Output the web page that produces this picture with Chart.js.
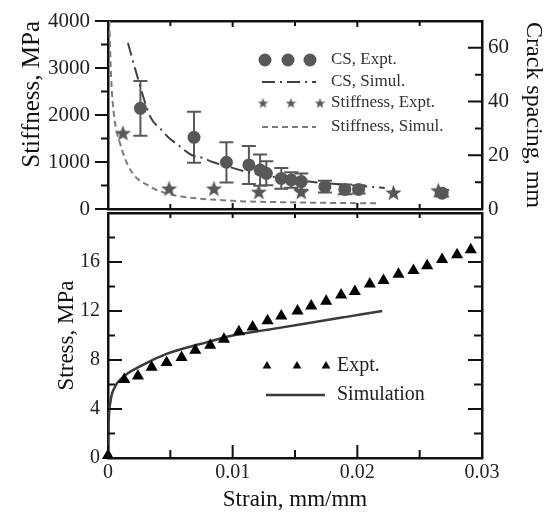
<!DOCTYPE html>
<html>
<head>
<meta charset="utf-8">
<title>Stiffness, crack spacing and stress vs strain</title>
<script src="https://cdn.jsdelivr.net/npm/chart.js@4.4.0/dist/chart.umd.min.js"></script>
<style>
  body { margin: 0; background: #fff; }
  .panel { position: absolute; left: 0; width: 545px; }
  #topPanel { top: 0; height: 222px; }
  #bottomPanel { top: 206px; height: 306px; }
</style>
</head>
<body>
<div class="panel" id="topPanel"><canvas id="crackChart"></canvas></div>
<div class="panel" id="bottomPanel"><canvas id="stressChart"></canvas></div>

<script>
  // ---- top panel: crack spacing (mm, right axis) and stiffness (MPa, left axis)
  const csStrain = [0.0026, 0.0069, 0.0095, 0.0113, 0.0122, 0.0127, 0.0139, 0.0147, 0.0155, 0.0174, 0.0190, 0.0201, 0.0268];
  const csExpt   = [37.5, 26.7, 17.4, 16.4, 14.5, 13.3, 11.4, 10.8, 10.2, 8.3, 7.3, 7.3, 5.9];
  const csErr    = [10.2, 9.5, 7.5, 7.1, 5.8, 4.5, 3.9, 2.9, 3.0, 2.2, 1.8, 1.5, 1.2];

  const csSimStrain = [0.0016, 0.0022, 0.0034, 0.0043, 0.0049, 0.0056, 0.0067, 0.0076, 0.0084, 0.0100, 0.0110, 0.0130, 0.0150, 0.0170, 0.0190, 0.0210, 0.0222];
  const csSim       = [61.8, 51.8, 34.3, 29.4, 26.4, 23.9, 20.1, 19.0, 17.5, 15.3, 14.0, 12.2, 10.8, 9.8, 9.0, 8.3, 7.8];

  const stiffStrain = [0.0012, 0.0049, 0.0085, 0.0121, 0.0155, 0.0229, 0.0265];
  const stiffExpt   = [1620, 440, 440, 370, 370, 355, 400];

  const stiffSimStrain = [0.0001, 0.00025, 0.0005, 0.00096, 0.0018, 0.0034, 0.0047, 0.006, 0.010, 0.015, 0.0215];
  const stiffSim       = [4000, 2800, 1960, 1400, 830, 474, 330, 262, 175, 140, 120];

  // ---- bottom panel: stress-strain
  const stressStrain = [0, 0.0013, 0.0024, 0.0035, 0.0047, 0.0059, 0.0070, 0.0082, 0.0093, 0.0105, 0.0116, 0.0128, 0.0139,
                        0.0152, 0.0163, 0.0175, 0.0187, 0.0198, 0.0210, 0.0221, 0.0233, 0.0245, 0.0256, 0.0268, 0.0280, 0.0291];
  const stressExpt   = [0.2, 6.4, 6.7, 7.4, 7.8, 8.2, 8.8, 9.2, 9.7, 10.3, 10.7, 11.2, 11.6,
                        12.0, 12.4, 12.8, 13.3, 13.6, 14.2, 14.5, 15.0, 15.3, 15.7, 16.2, 16.6, 17.0];

  const simStrain = [0, 0.00005, 0.0002, 0.0005, 0.0012, 0.0026, 0.0047, 0.0074, 0.0100, 0.0130, 0.0160, 0.0190, 0.0220];
  const simStress = [0, 2.8, 4.6, 5.7, 6.6, 7.5, 8.5, 9.3, 10.0, 10.5, 11.0, 11.5, 12.0];

  const strainTicks = [0, 0.01, 0.02, 0.03];

  const pts = (xs, ys) => xs.map((x, i) => ({ x: x, y: ys[i] }));

  const SERIF = "'Liberation Serif', 'Times New Roman', serif";
  const AXIS = '#111';
  const GREY = '#585858';

  // filled five-point star used as a point style
  function makeStar(size, color) {
    const c = document.createElement('canvas');
    c.width = c.height = size;
    const g = c.getContext('2d');
    const R = size / 2, r = R * 0.42;
    g.beginPath();
    for (let i = 0; i < 10; i++) {
      const a = -Math.PI / 2 + i * Math.PI / 5;
      const rad = i % 2 ? r : R;
      g.lineTo(R + rad * Math.cos(a), R + 0.1 * R + rad * Math.sin(a));
    }
    g.closePath();
    g.fillStyle = color;
    g.fill();
    return c;
  }
  const bigStar = makeStar(17, GREY);
  const smallStar = makeStar(11, GREY);

  // tick marks with minor ticks, inward or outward
  const tickMarks = {
    id: 'tickMarks',
    afterDraw(chart, args, opts) {
      const ctx = chart.ctx, a = chart.chartArea;
      ctx.save();
      ctx.strokeStyle = AXIS;
      ctx.lineWidth = 2;
      ctx.beginPath();
      for (const m of opts.marks) {
        const s = chart.scales[m.id];
        const n = Math.round((s.max - s.min) / m.step);
        for (let i = 0; i <= n; i++) {
          const p = s.getPixelForValue(s.min + i * m.step);
          const len = (i % m.every === 0 ? m.len[0] : m.len[1]) * (m.out ? -1 : 1);
          if (m.side === 'left') { ctx.moveTo(a.left, p); ctx.lineTo(a.left + len, p); }
          if (m.side === 'right') { ctx.moveTo(a.right, p); ctx.lineTo(a.right - len, p); }
          if (m.side === 'bottom') { ctx.moveTo(p, a.bottom); ctx.lineTo(p, a.bottom - len); }
          if (m.side === 'top') { ctx.moveTo(p, a.top); ctx.lineTo(p, a.top + len); }
        }
      }
      ctx.stroke();
      ctx.restore();
    }
  };

  // vertical error bars with caps for one dataset
  const errorBars = {
    id: 'errorBars',
    beforeDatasetsDraw(chart, args, opts) {
      if (!opts.values) return;
      const meta = chart.getDatasetMeta(opts.datasetIndex);
      const ys = chart.scales[meta.yAxisID];
      const data = chart.data.datasets[opts.datasetIndex].data;
      const ctx = chart.ctx;
      ctx.save();
      ctx.strokeStyle = opts.color;
      ctx.lineWidth = 2;
      ctx.beginPath();
      meta.data.forEach((el, i) => {
        const hi = ys.getPixelForValue(data[i].y + opts.values[i]);
        const lo = ys.getPixelForValue(data[i].y - opts.values[i]);
        ctx.moveTo(el.x, hi); ctx.lineTo(el.x, lo);
        ctx.moveTo(el.x - opts.cap, hi); ctx.lineTo(el.x + opts.cap, hi);
        ctx.moveTo(el.x - opts.cap, lo); ctx.lineTo(el.x + opts.cap, lo);
      });
      ctx.stroke();
      ctx.restore();
    }
  };

  // in-plot legend: a row of markers or a line sample, then the label
  const panelLegend = {
    id: 'panelLegend',
    afterDatasetsDraw(chart, args, opts) {
      const ctx = chart.ctx;
      ctx.save();
      for (const it of opts.items) {
        if (it.marker) {
          ctx.fillStyle = it.marker.color;
          for (const x of it.marks) Chart.helpers.drawPoint(ctx, it.marker, x, it.y);
        } else {
          ctx.save();
          ctx.strokeStyle = it.line.color;
          ctx.lineWidth = it.line.width;
          ctx.setLineDash(it.line.dash || []);
          ctx.beginPath();
          ctx.moveTo(it.from, it.y);
          ctx.lineTo(it.to, it.y);
          ctx.stroke();
          ctx.restore();
        }
        ctx.font = opts.font;
        ctx.fillStyle = opts.color;
        ctx.textBaseline = 'middle';
        ctx.fillText(it.text, it.tx, it.y);
      }
      ctx.restore();
    }
  };

  // pin axis sizes so the two plot areas line up exactly
  const noPad = s => { s.paddingTop = s.paddingBottom = s.paddingLeft = s.paddingRight = 0; };
  const fixWidth = w => s => { s.width = w; noPad(s); };
  const fixHeight = h => s => { s.height = h; noPad(s); };
  const tickFont = { family: SERIF, size: 20 };
  const topTickFont = { family: SERIF, size: 21 };
  const titleFont = { family: SERIF, size: 23, lineHeight: 1 };
  const border = { color: AXIS, width: 2.5 };

  function strainAxis(position, height, labels) {
    return {
      type: 'linear', position: position, min: 0, max: 0.03,
      grid: { display: false, drawTicks: false },
      border: border,
      afterFit: fixHeight(height),
      ticks: {
        display: labels, stepSize: 0.01, padding: 3, color: '#222', font: tickFont,
        callback: v => strainTicks.some(t => Math.abs(t - v) < 1e-9) ? String(Number(v.toFixed(3))) : ''
      }
    };
  }

  // ---- top chart
  new Chart(document.getElementById('crackChart'), {
    type: 'line',
    data: {
      datasets: [
        {
          label: 'CS, Expt.', data: pts(csStrain, csExpt), yAxisID: 'y2', showLine: false,
          pointStyle: 'circle', pointRadius: 6.5, pointBackgroundColor: GREY, pointBorderWidth: 0, order: 1
        },
        {
          label: 'CS, Simul.', data: pts(csSimStrain, csSim), yAxisID: 'y2', pointRadius: 0,
          borderColor: '#404040', borderWidth: 2, borderDash: [13, 5, 2, 5], cubicInterpolationMode: 'monotone', order: 3
        },
        {
          label: 'Stiffness, Expt.', data: pts(stiffStrain, stiffExpt), yAxisID: 'y', showLine: false,
          pointStyle: bigStar, pointRadius: 8, order: 0
        },
        {
          label: 'Stiffness, Simul.', data: pts(stiffSimStrain, stiffSim), yAxisID: 'y', pointRadius: 0,
          borderColor: '#7c7c7c', borderWidth: 2, borderDash: [6, 4], cubicInterpolationMode: 'monotone', order: 4
        }
      ]
    },
    options: {
      responsive: true,
      maintainAspectRatio: false,
      animation: false,
      layout: { padding: 0 },
      scales: {
        x: strainAxis('bottom', 13, false),
        xTop: strainAxis('top', 21, false),
        y: {
          position: 'left', min: 0, max: 4000,
          grid: { display: false, drawTicks: false }, border: border,
          afterFit: fixWidth(108),
          ticks: { stepSize: 1000, padding: 18, color: '#222', font: topTickFont, callback: v => String(v) },
          title: {
            display: true, text: 'Stiffness, MPa', color: '#111', align: 'end',
            font: { family: SERIF, size: 25, lineHeight: 1 }, padding: { top: 20 }
          }
        },
        y2: {
          position: 'right', min: 0, max: 70,
          grid: { display: false, drawTicks: false }, border: border,
          afterFit: fixWidth(63),
          ticks: { stepSize: 10, padding: 6, color: '#222', font: topTickFont, callback: v => v % 20 === 0 ? String(v) : '' },
          title: {
            display: true, text: 'Crack spacing, mm', color: '#111',
            font: { family: SERIF, size: 24, lineHeight: 1 }, padding: { top: 0 }
          }
        }
      },
      plugins: {
        legend: { display: false },
        tooltip: { enabled: false },
        errorBars: { datasetIndex: 0, values: csErr, color: GREY, cap: 7 },
        tickMarks: {
          marks: [
            { id: 'y', side: 'left', step: 500, every: 2, len: [13, 7], out: true },
            { id: 'y2', side: 'right', step: 10, every: 2, len: [14, 7] },
            { id: 'x', side: 'bottom', step: 0.005, every: 2, len: [6, 5] },
            { id: 'xTop', side: 'top', step: 0.005, every: 2, len: [6, 5] }
          ]
        },
        panelLegend: {
          font: '17px ' + SERIF, color: '#333',
          items: [
            { marker: { pointStyle: 'circle', radius: 6.5, color: GREY }, marks: [265, 288, 310], y: 60, text: 'CS, Expt.', tx: 331 },
            { line: { color: '#404040', width: 2, dash: [13, 5, 2, 5] }, from: 262, to: 316, y: 82, text: 'CS, Simul.', tx: 331 },
            { marker: { pointStyle: smallStar, radius: 6, color: GREY }, marks: [263, 291, 320], y: 103, text: 'Stiffness, Expt.', tx: 331 },
            { line: { color: '#7c7c7c', width: 2, dash: [6, 4] }, from: 262, to: 316, y: 127, text: 'Stiffness, Simul.', tx: 331 }
          ]
        }
      }
    },
    plugins: [errorBars, tickMarks, panelLegend]
  });

  // ---- bottom chart
  new Chart(document.getElementById('stressChart'), {
    type: 'line',
    data: {
      datasets: [
        {
          label: 'Expt.', data: pts(stressStrain, stressExpt), showLine: false, clip: false,
          pointStyle: 'triangle', pointRadius: 7, pointBackgroundColor: '#000', pointBorderWidth: 0, order: 0
        },
        {
          label: 'Simulation', data: pts(simStrain, simStress), pointRadius: 0,
          borderColor: '#3a3a3a', borderWidth: 2.5, cubicInterpolationMode: 'monotone', order: 1
        }
      ]
    },
    options: {
      responsive: true,
      maintainAspectRatio: false,
      animation: false,
      layout: { padding: 0 },
      scales: {
        x: Object.assign(strainAxis('bottom', 54, true), {
          title: { display: true, text: 'Strain, mm/mm', color: '#111', font: titleFont, padding: { bottom: 0.5 } }
        }),
        xTop: strainAxis('top', 3, false),
        y: {
          position: 'left', min: 0, max: 20,
          grid: { display: false, drawTicks: false }, border: border,
          afterFit: fixWidth(108),
          ticks: { stepSize: 4, padding: 8, color: '#222', font: tickFont, callback: v => v < 20 ? String(v) : '' },
          title: { display: true, text: 'Stress, MPa', color: '#111', font: titleFont, padding: { top: 55 } }
        },
        y2: {
          position: 'right', min: 0, max: 20,
          grid: { display: false, drawTicks: false }, border: border,
          afterFit: fixWidth(63),
          ticks: { display: false }
        }
      },
      plugins: {
        legend: { display: false },
        tooltip: { enabled: false },
        tickMarks: {
          marks: [
            { id: 'y', side: 'left', step: 2, every: 2, len: [14, 7] },
            { id: 'y2', side: 'right', step: 2, every: 2, len: [14, 8] },
            { id: 'x', side: 'bottom', step: 0.005, every: 2, len: [13, 8] },
            { id: 'xTop', side: 'top', step: 0.005, every: 2, len: [5, 5] }
          ]
        },
        panelLegend: {
          font: '20px ' + SERIF, color: '#222',
          items: [
            { marker: { pointStyle: 'triangle', radius: 5, color: '#000' }, marks: [267, 297, 326], y: 160, text: 'Expt.', tx: 337 },
            { line: { color: '#3a3a3a', width: 2.5 }, from: 266, to: 325, y: 189, text: 'Simulation', tx: 337 }
          ]
        }
      }
    },
    plugins: [tickMarks, panelLegend]
  });
</script>
</body>
</html>
